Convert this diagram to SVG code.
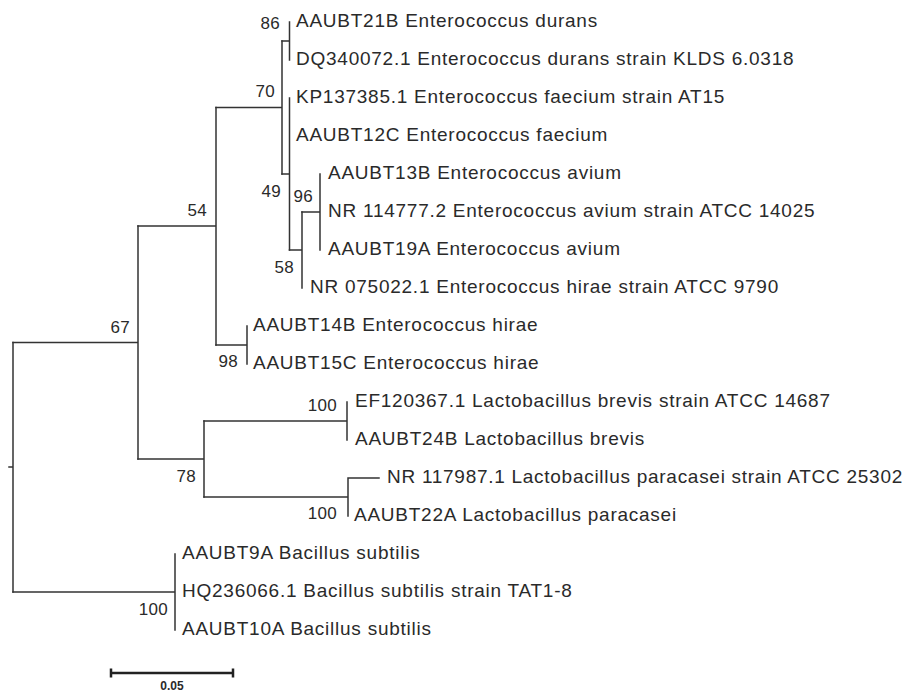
<svg xmlns="http://www.w3.org/2000/svg" width="906" height="693" viewBox="0 0 906 693">
<style>
.e{stroke:#333;stroke-width:1.5;fill:none;stroke-linecap:square}
.t{font-family:"Liberation Sans",Arial,sans-serif;font-size:19px;letter-spacing:0.75px;fill:#2a2a2a}
.b{font-family:"Liberation Sans",Arial,sans-serif;font-size:17px;letter-spacing:0.3px;fill:#2a2a2a;text-anchor:end}
.s{font-family:"Liberation Sans",Arial,sans-serif;font-size:12px;font-weight:bold;fill:#2a2a2a;text-anchor:middle}
</style>
<rect width="906" height="693" fill="#fff"/>
<g id="connectors">
<path class="e" d="M9,467H13M13,342.5V592"/>
<path class="e" d="M13,342.5H138M138,226V459"/>
<path class="e" d="M138,226H216M216,107.5V345"/>
<path class="e" d="M216,107.5H282M282,41V174"/>
<path class="e" d="M282,41H289.5M289.5,22V60"/>
<path class="e" d="M282,174H289.5M289.5,98V250"/>
<path class="e" d="M289.5,250H302M302,212V288"/>
<path class="e" d="M302,212H320M320,174V250"/>
<path class="e" d="M216,345H247M247,326V364"/>
<path class="e" d="M138,459H204M204,421V497"/>
<path class="e" d="M204,421H347M347,402V440"/>
<path class="e" d="M204,497H348M348,478V516M348,478H379"/>
<path class="e" d="M13,592H175M175,554V630"/>
</g>
<g id="leaves">
<g id="leaf-AAUBT21B"><text class="t" x="296" y="27">AAUBT21B Enterococcus durans</text></g>
<g id="leaf-DQ340072"><text class="t" x="296" y="65">DQ340072.1 Enterococcus durans strain KLDS 6.0318</text></g>
<g id="leaf-KP137385"><text class="t" x="296" y="103">KP137385.1 Enterococcus faecium strain AT15</text></g>
<g id="leaf-AAUBT12C"><text class="t" x="296" y="141">AAUBT12C Enterococcus faecium</text></g>
<g id="leaf-AAUBT13B"><text class="t" x="328" y="179">AAUBT13B Enterococcus avium</text></g>
<g id="leaf-NR114777"><text class="t" x="328" y="217">NR 114777.2 Enterococcus avium strain ATCC 14025</text></g>
<g id="leaf-AAUBT19A"><text class="t" x="328" y="255">AAUBT19A Enterococcus avium</text></g>
<g id="leaf-NR075022"><text class="t" x="310" y="293">NR 075022.1 Enterococcus hirae strain ATCC 9790</text></g>
<g id="leaf-AAUBT14B"><text class="t" x="253" y="331">AAUBT14B Enterococcus hirae</text></g>
<g id="leaf-AAUBT15C"><text class="t" x="253" y="369">AAUBT15C Enterococcus hirae</text></g>
<g id="leaf-EF120367"><text class="t" x="355" y="407">EF120367.1 Lactobacillus brevis strain ATCC 14687</text></g>
<g id="leaf-AAUBT24B"><text class="t" x="355" y="445">AAUBT24B Lactobacillus brevis</text></g>
<g id="leaf-NR117987"><text class="t" x="387" y="483" textLength="516" lengthAdjust="spacing">NR 117987.1 Lactobacillus paracasei strain ATCC 25302</text></g>
<g id="leaf-AAUBT22A"><text class="t" x="354" y="521">AAUBT22A Lactobacillus paracasei</text></g>
<g id="leaf-AAUBT9A"><text class="t" x="182" y="559">AAUBT9A Bacillus subtilis</text></g>
<g id="leaf-HQ236066"><text class="t" x="182" y="597">HQ236066.1 Bacillus subtilis strain TAT1-8</text></g>
<g id="leaf-AAUBT10A"><text class="t" x="182" y="635">AAUBT10A Bacillus subtilis</text></g>
</g>
<g id="bootstrap">
<g id="node-86"><text class="b" x="280" y="29">86</text></g>
<g id="node-70"><text class="b" x="275" y="97">70</text></g>
<g id="node-49"><text class="b" x="281" y="197">49</text></g>
<g id="node-96"><text class="b" x="313" y="202">96</text></g>
<g id="node-58"><text class="b" x="294" y="273">58</text></g>
<g id="node-54"><text class="b" x="207" y="216">54</text></g>
<g id="node-67"><text class="b" x="130" y="333">67</text></g>
<g id="node-98"><text class="b" x="238" y="367">98</text></g>
<g id="node-100a"><text class="b" x="337" y="411">100</text></g>
<g id="node-78"><text class="b" x="196" y="482">78</text></g>
<g id="node-100b"><text class="b" x="337" y="519">100</text></g>
<g id="node-100c"><text class="b" x="168" y="615">100</text></g>
</g>
<g id="scale-bar">
<path d="M111,673H233M111,668.5V677.5M233,668.5V677.5" stroke="#222" stroke-width="2.5" fill="none"/>
<text class="s" x="172" y="690">0.05</text>
</g>
</svg>
